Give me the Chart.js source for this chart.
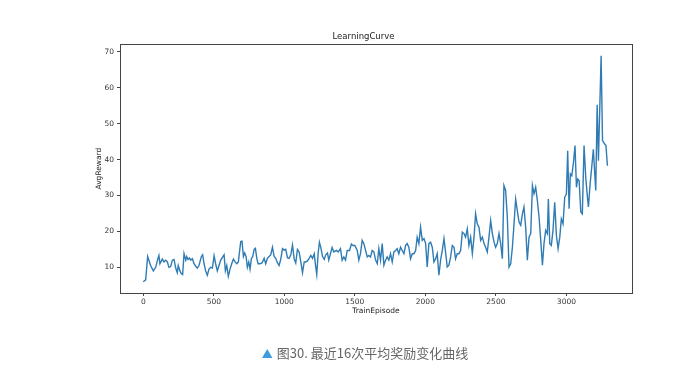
<!DOCTYPE html>
<html>
<head>
<meta charset="utf-8">
<script src="https://cdn.jsdelivr.net/npm/chart.js@4/dist/chart.umd.min.js"></script>
<style>
  html, body { margin: 0; padding: 0; background: #fff; }
  #wrap { position: relative; width: 700px; height: 384px; }
  #caption {
    position: absolute; left: 0; width: 730px; top: 343px;
    text-align: center; font-family: "Noto Sans CJK SC", sans-serif;
    font-size: 13px; color: #666;
  }
  #caption .tri { color: #3d9be0; font-size: 11px; margin-right: 4px; }
</style>
</head>
<body>
<div id="wrap">
  <canvas id="curve" width="700" height="384"></canvas>
  <div id="caption"><span class="tri">▲</span>图30. 最近16次平均奖励变化曲线</div>
</div>
<script>
// episode numbers
const episodes = [
  0, 17, 31, 52, 71, 88, 104, 111, 118, 135, 147, 159, 170, 182, 194, 206, 218, 230, 241, 248,
  260, 270, 279, 289, 301, 308, 317, 327, 336, 348, 360, 372, 383, 395, 412, 421, 431, 442, 454, 466,
  478, 490, 502, 513, 525, 537, 549, 561, 573, 582, 592, 603, 615, 627, 639, 651, 663, 674, 691, 700,
  710, 719, 729, 738, 748, 757, 767, 776, 786, 795, 805, 814, 828, 842, 857, 868, 880, 892, 904, 916,
  928, 939, 951, 963, 975, 987, 999, 1010, 1022, 1034, 1046, 1058, 1070, 1081, 1093, 1105, 1117, 1129, 1141, 1152,
  1164, 1176, 1188, 1200, 1212, 1223, 1230, 1240, 1249, 1259, 1271, 1283, 1294, 1306,
  1315, 1339, 1351, 1368, 1382, 1398, 1410, 1422, 1434, 1446, 1462, 1476, 1486, 1500, 1517, 1528, 1540, 1552, 1564, 1576,
  1588, 1599, 1611, 1623, 1635, 1647, 1659, 1670, 1682, 1694, 1706, 1718, 1729, 1741, 1753, 1765, 1777, 1789, 1800, 1812,
  1824, 1836, 1848, 1860, 1871, 1883, 1895, 1907, 1919, 1931, 1942, 1954, 1966, 1978, 1990, 2002, 2013, 2025, 2037, 2049,
  2061, 2073, 2084, 2096, 2108, 2120, 2132, 2143, 2155, 2167, 2179, 2191, 2203, 2214, 2226, 2238, 2250, 2262, 2274, 2285,
  2297, 2309, 2321, 2333, 2345, 2356, 2368, 2380, 2392, 2404, 2416, 2427, 2439, 2451, 2463, 2475, 2487, 2498, 2510, 2522,
  2534, 2546, 2557, 2569, 2581, 2593, 2605, 2617, 2628, 2640, 2652, 2664, 2676, 2688, 2699, 2711, 2723, 2735, 2747, 2759,
  2770, 2782, 2794, 2806, 2818, 2830, 2841, 2853, 2865, 2872, 2882, 2893, 2905, 2917, 2929, 2941, 2953, 2964, 2976, 2988,
  3000, 3009, 3019, 3028, 3038, 3050, 3061, 3071, 3080, 3090, 3102, 3113, 3125, 3137, 3149, 3156, 3168, 3180, 3191, 3201,
  3208, 3218, 3227, 3246, 3256, 3270, 3280, 3291
];

// average reward over the last 16 episodes
const avgReward = [
  6, 6.5, 13, 10.5, 9, 10, 12.5, 13.3, 11, 12.3, 11.5, 12, 11.6, 10, 10.2, 12, 12.2, 9.8, 8.5, 10.5,
  9, 8.2, 8, 13.8, 12, 13, 12.2, 12.6, 12, 12.4, 11, 10.3, 9.8, 10.5, 13, 13.5, 11, 9, 7.8, 9.5,
  10, 9.8, 13.2, 11, 9, 10.5, 12, 12.8, 13.5, 9, 10.5, 7.5, 9.5, 11, 12.3, 11.5, 11, 11.5, 17.2, 17.3,
  13, 14, 13, 10, 11.5, 9.5, 12.5, 13, 15, 15.3, 12.5, 11, 11, 11.2, 12.5, 11, 12.5, 13, 13.5, 15.6,
  13, 12.5, 11.3, 10.5, 12.3, 15.2, 14.8, 15, 12.7, 12.5, 13.5, 16.2, 12.3, 11.2, 15, 14.3, 11.5, 8.5, 11.5, 11.5,
  11.8, 12.5, 13.3, 12.5, 13.8, 10, 8, 14, 17, 15.5, 13, 12.2, 13.5, 14,
  12, 15.5, 14.3, 14.7, 14.3, 15.2, 12, 12.9, 12, 14.7, 14.7, 16.5, 16.1, 16.1, 14.7, 12, 13.8, 17.5, 16.6, 14.7,
  12.9, 13.3, 12.9, 14.7, 14.3, 12, 11, 15.2, 12, 16.6, 10.6, 12, 12.9, 12, 13.8, 11.5, 14.3, 14.7, 15.2, 13.8,
  15.6, 14.7, 13.8, 16.1, 16.6, 15.6, 12.4, 13.8, 13.8, 14.7, 18.4, 16.6, 21.2, 17.5, 18, 16.6, 10.1, 16.6, 17, 15.6,
  11.5, 12.4, 13.8, 7.8, 12, 14.7, 18, 14.3, 10.1, 10.6, 12.9, 16.1, 15.6, 12.4, 13.8, 13.8, 14.7, 19.8, 19.4, 18.4,
  20.7, 16.1, 18.4, 13.8, 18.4, 24.9, 22.1, 21.2, 17.5, 18.4, 16.6, 15.6, 14.3, 18.4, 23, 19.4, 17, 15.6, 16.6, 19.4,
  16.6, 12.4, 32.8, 31.4, 24, 10.1, 11, 15.6, 21.7, 29, 25.8, 22.6, 21.7, 24.9, 26.8, 21.2, 12, 18.4, 19.4, 32.8,
  30.5, 32.3, 28.6, 24, 17.5, 10.6, 16.6, 20.3, 19.4, 29, 16.6, 16.1, 20.3, 28.1, 18.9, 15.2, 18.4, 23.5, 22.1, 29.5,
  30.5, 42.5, 26.3, 36, 35.5, 39.2, 43.9, 32.3, 34.6, 34.2, 25.4, 24.9, 43.9, 35.1, 29.5, 26.8, 33.2, 38.1, 42.9, 36,
  31.4, 55.3, 39.7, 68.9, 45.3, 44.4, 44, 38.3
];

const xTicks = [0, 500, 1000, 1500, 2000, 2500, 3000];
const yTicks = [10, 20, 30, 40, 50, 60, 70];

const tickFont = { family: "DejaVu Sans", size: 7.5 };
const spineColor = "#444";

// matplotlib-style box around the axes
const frameBox = {
  id: "frameBox",
  afterDatasetsDraw(chart) {
    const a = chart.chartArea;
    const ctx = chart.ctx;
    ctx.save();
    ctx.strokeStyle = spineColor;
    ctx.lineWidth = 1;
    ctx.strokeRect(Math.round(a.left) + 0.5, Math.round(a.top) + 0.5,
                   Math.round(a.right - a.left), Math.round(a.bottom - a.top));
    ctx.restore();
  }
};

new Chart(document.getElementById("curve"), {
  type: "line",
  data: {
    datasets: [{
      data: episodes.map((e, i) => ({ x: e, y: avgReward[i] })),
      borderColor: "#2f7bb3",
      borderWidth: 1.4,
      pointRadius: 0,
      tension: 0
    }]
  },
  options: {
    responsive: false,
    animation: false,
    layout: { padding: { left: 95, right: 68, top: 20, bottom: 68 } },
    plugins: {
      legend: { display: false },
      tooltip: { enabled: false },
      title: {
        display: true,
        text: "LearningCurve",
        color: "#222",
        font: { family: "DejaVu Sans", size: 8.5, weight: "normal" },
        padding: { top: 12, bottom: 2 }
      }
    },
    scales: {
      x: {
        type: "linear",
        min: -165,
        max: 3465,
        afterBuildTicks: (s) => { s.ticks = xTicks.map(v => ({ value: v })); },
        afterFit: (s) => { s.height = 23; },
        grid: { drawOnChartArea: false, tickLength: 3, color: spineColor },
        border: { color: spineColor },
        ticks: { color: "#333", font: tickFont, padding: 2, maxRotation: 0,
                 callback: (v) => String(v) },
        title: { display: true, text: "TrainEpisode", color: "#222",
                 font: { family: "DejaVu Sans", size: 7.5 }, padding: 0 }
      },
      y: {
        min: 2.85,
        max: 72.15,
        afterBuildTicks: (s) => { s.ticks = yTicks.map(v => ({ value: v })); },
        afterFit: (s) => { s.width = 25; },
        grid: { drawOnChartArea: false, tickLength: 3, color: spineColor },
        border: { color: spineColor },
        ticks: { color: "#333", font: tickFont, padding: 3,
                 callback: (v) => String(v) },
        title: { display: true, text: "AvgReward", color: "#222",
                 font: { family: "DejaVu Sans", size: 7.5 }, padding: 0 }
      }
    }
  },
  plugins: [frameBox]
});
</script>
</body>
</html>
